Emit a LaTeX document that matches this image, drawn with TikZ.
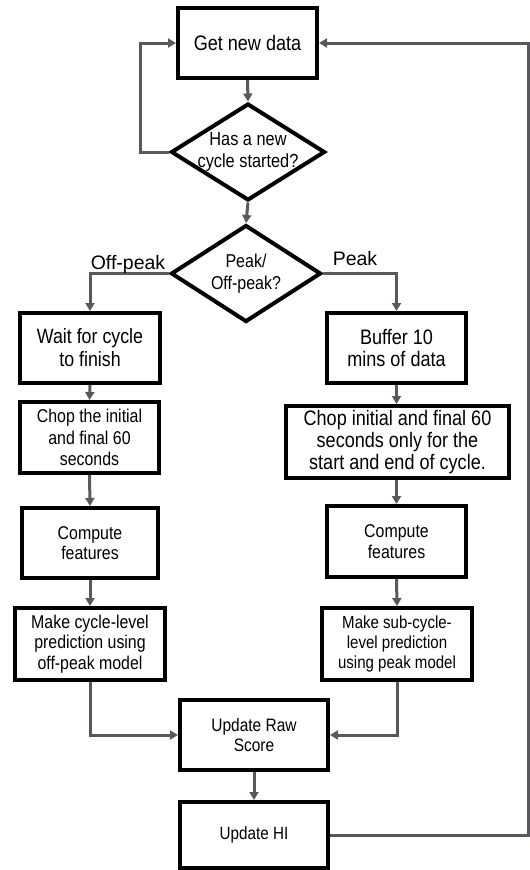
\documentclass[tikz,border=0pt]{standalone}
\usepackage{fontspec}
\setmainfont{Liberation Sans}[FakeStretch=0.86]
\newfontfamily\labfont{Liberation Sans}
\usetikzlibrary{shapes.geometric,arrows.meta}
\definecolor{conn}{RGB}{88,89,96}
\tikzset{
  box/.style={draw=black, line width=4pt, fill=white, inner sep=0pt, align=center, text=black},
  dia/.style={draw=black, line width=4pt, fill=white, diamond, inner sep=0pt},
  conn/.style={draw=conn, line width=3pt, -{Triangle[length=8pt,width=9pt]}},
  fA/.style={font=\fontsize{18.5}{20.5}\selectfont},
  fB/.style={font=\fontsize{20.7}{23}\selectfont},
  lab/.style={font=\labfont\fontsize{19.5}{23}\selectfont, text=black},
}
\begin{document}
\begin{tikzpicture}[x=1pt,y=-1pt]
\useasboundingbox (0,0) rectangle (530,870);
% nodes
\node[box, font=\fontsize{21}{24}\selectfont, minimum width=139pt, minimum height=70pt] (get) at (247.5,43) {Get new data};
\node[dia, minimum width=154pt, minimum height=97pt,
      label={[font=\fontsize{19}{21.5}\selectfont, align=center, text=black]center:Has a new\\cycle started?}] (d1) at (248,152) {};
\node[dia, minimum width=150pt, minimum height=97pt,
      label={[font=\fontsize{18.6}{21.5}\selectfont, align=center, text=black]center:Peak/\\Off-peak?}] (d2) at (246,273.5) {};
\node[box, fB, minimum width=140pt, minimum height=70pt] (wait) at (90,348) {Wait for cycle\\to finish};
\node[box, fB, font=\fontsize{21}{23}\selectfont, minimum width=139pt, minimum height=70pt] (buf) at (396.5,348) {Buffer 10\\mins of data};
\node[box, fA, font=\fontsize{18.5}{21.5}\selectfont, minimum width=139pt, minimum height=71pt] (chopL) at (89.5,437.5) {Chop the initial\\and final 60\\seconds};
\node[box, font=\fontsize{21}{22}\selectfont, minimum width=223pt, minimum height=72pt] (chopR) at (397.5,442) {Chop initial and final 60\\seconds only for the\\start and end of cycle.};
\node[box, fA, minimum width=136pt, minimum height=70pt] (compL) at (90,543) {Compute\\features};
\node[box, fA, minimum width=139pt, minimum height=71pt] (compR) at (396.5,541.5) {Compute\\features};
\node[box, fA, minimum width=150pt, minimum height=72pt] (makeL) at (90,644) {Make cycle-level\\prediction using\\off-peak model};
\node[box, font=\fontsize{17.5}{20}\selectfont, minimum width=150pt, minimum height=72pt] (makeR) at (397,644) {Make sub-cycle-\\level prediction\\using peak model};
\node[box, font=\fontsize{18}{20}\selectfont, minimum width=148pt, minimum height=70pt] (raw) at (254,735) {Update Raw\\Score};
\node[box, font=\fontsize{17.7}{20}\selectfont, minimum width=148pt, minimum height=66pt] (hi) at (254,835) {Update HI};
% corner coordinates
\coordinate (lA) at (140,152);
\coordinate (lB) at (140,43);
\coordinate (rA) at (528,835);
\coordinate (rB) at (528,43);
\coordinate (oA) at (90,273.5);
\coordinate (pA) at (396.5,273.5);
\coordinate (mA) at (90,735);
\coordinate (mB) at (397,735);
% connectors
\draw[conn] (get.south) -- (d1.north);
\draw[conn] (d1.west) -- (lA) -- (lB) -- (get.west);
\draw[conn] (hi.east) -- (rA) -- (rB) -- (get.east);
\draw[conn] (d1.south) -- (d2.north);
\draw[conn] (d2.west) -- (oA) -- (wait.north);
\draw[conn] (d2.east) -- (pA) -- (buf.north);
\draw[conn] (wait.south) -- (chopL.north);
\draw[conn] (chopL.south) -- (compL.north);
\draw[conn] (compL.south) -- (makeL.north);
\draw[conn] (buf.south) -- (buf.south |- chopR.north);
\draw[conn] (buf.south |- chopR.south) -- (compR.north);
\draw[conn] (compR.south) -- (makeR.north);
\draw[conn] (makeL.south) -- (mA) -- (raw.west);
\draw[conn] (makeR.south) -- (mB) -- (raw.east);
\draw[conn] (raw.south) -- (hi.north);
% labels
\node[lab, anchor=base] (offl) at (128,269) {Off-peak};
\node[lab, anchor=base] (peakl) at (355,265) {Peak};
\end{tikzpicture}
\end{document}
